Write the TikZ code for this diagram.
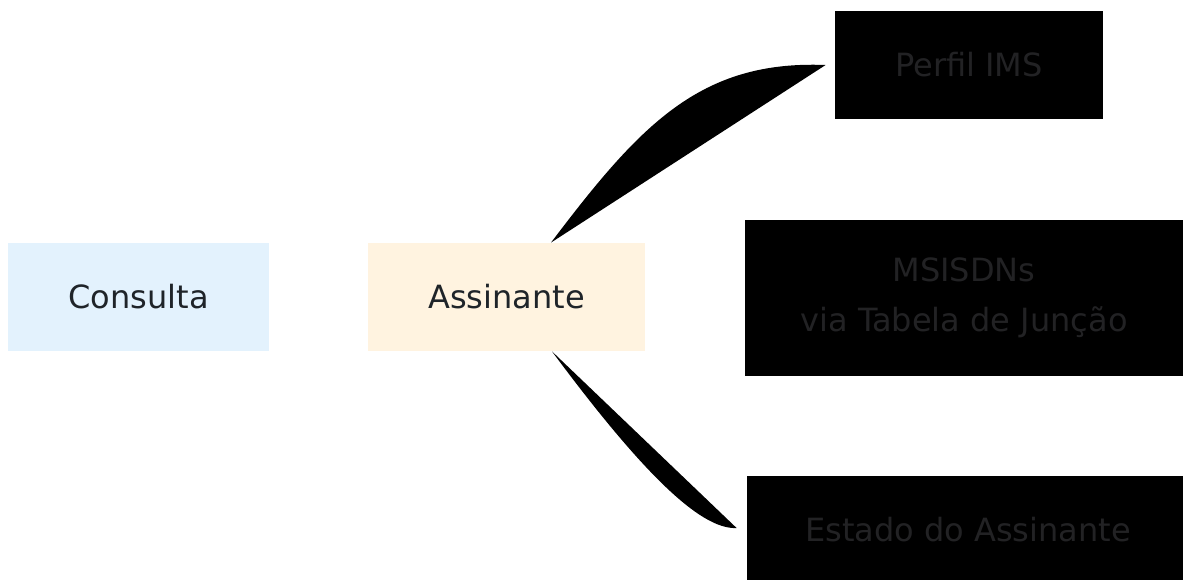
\documentclass[tikz,border=0pt]{standalone}
\usepackage{fontspec}
\setmainfont{DejaVu Sans}
\usetikzlibrary{positioning,calc}
\definecolor{consultafill}{HTML}{E3F2FD}
\definecolor{assinantefill}{HTML}{FFF3E0}
\definecolor{textdark}{HTML}{1F2429}
\definecolor{textdim}{HTML}{222224}

\begin{document}
\begin{tikzpicture}[x=0.5pt,y=-0.5pt,
  box/.style={inner sep=0pt,align=center,font=\fontsize{16}{25}\selectfont},
  lightbox/.style={box,text=textdark,minimum width=#1,minimum height=54pt},
  darkbox/.style={box,fill=black,text=textdim}]
  \useasboundingbox (0,0) rectangle (1183,579);

  \node (consulta) [lightbox=130.5pt,fill=consultafill] at (138.5,297) {Consulta};
  \node (assinante) [lightbox=138.5pt,fill=assinantefill] at (506.5,297) {Assinante};

  \node (perfil) [darkbox,minimum width=134pt,minimum height=54pt] at (969,65) {Perfil IMS};
  \node (msisdn) [darkbox,minimum width=219pt,minimum height=78pt] at (964,298) {MSISDNs\\via Tabela de Junção};
  \node (estado) [darkbox,minimum width=221pt,minimum height=54pt] at (968,530) {Estado do Assinante};

  % ligacoes
  \fill ([xshift=22.25pt]assinante.north) .. controls (640,125) and (700,60) .. ([xshift=-4.5pt]perfil.west) -- cycle;
  \fill ([xshift=22.75pt]assinante.south) .. controls (640,470) and (700,530) .. ([xshift=-5pt,yshift=1pt]estado.west) -- cycle;
\end{tikzpicture}
\end{document}
